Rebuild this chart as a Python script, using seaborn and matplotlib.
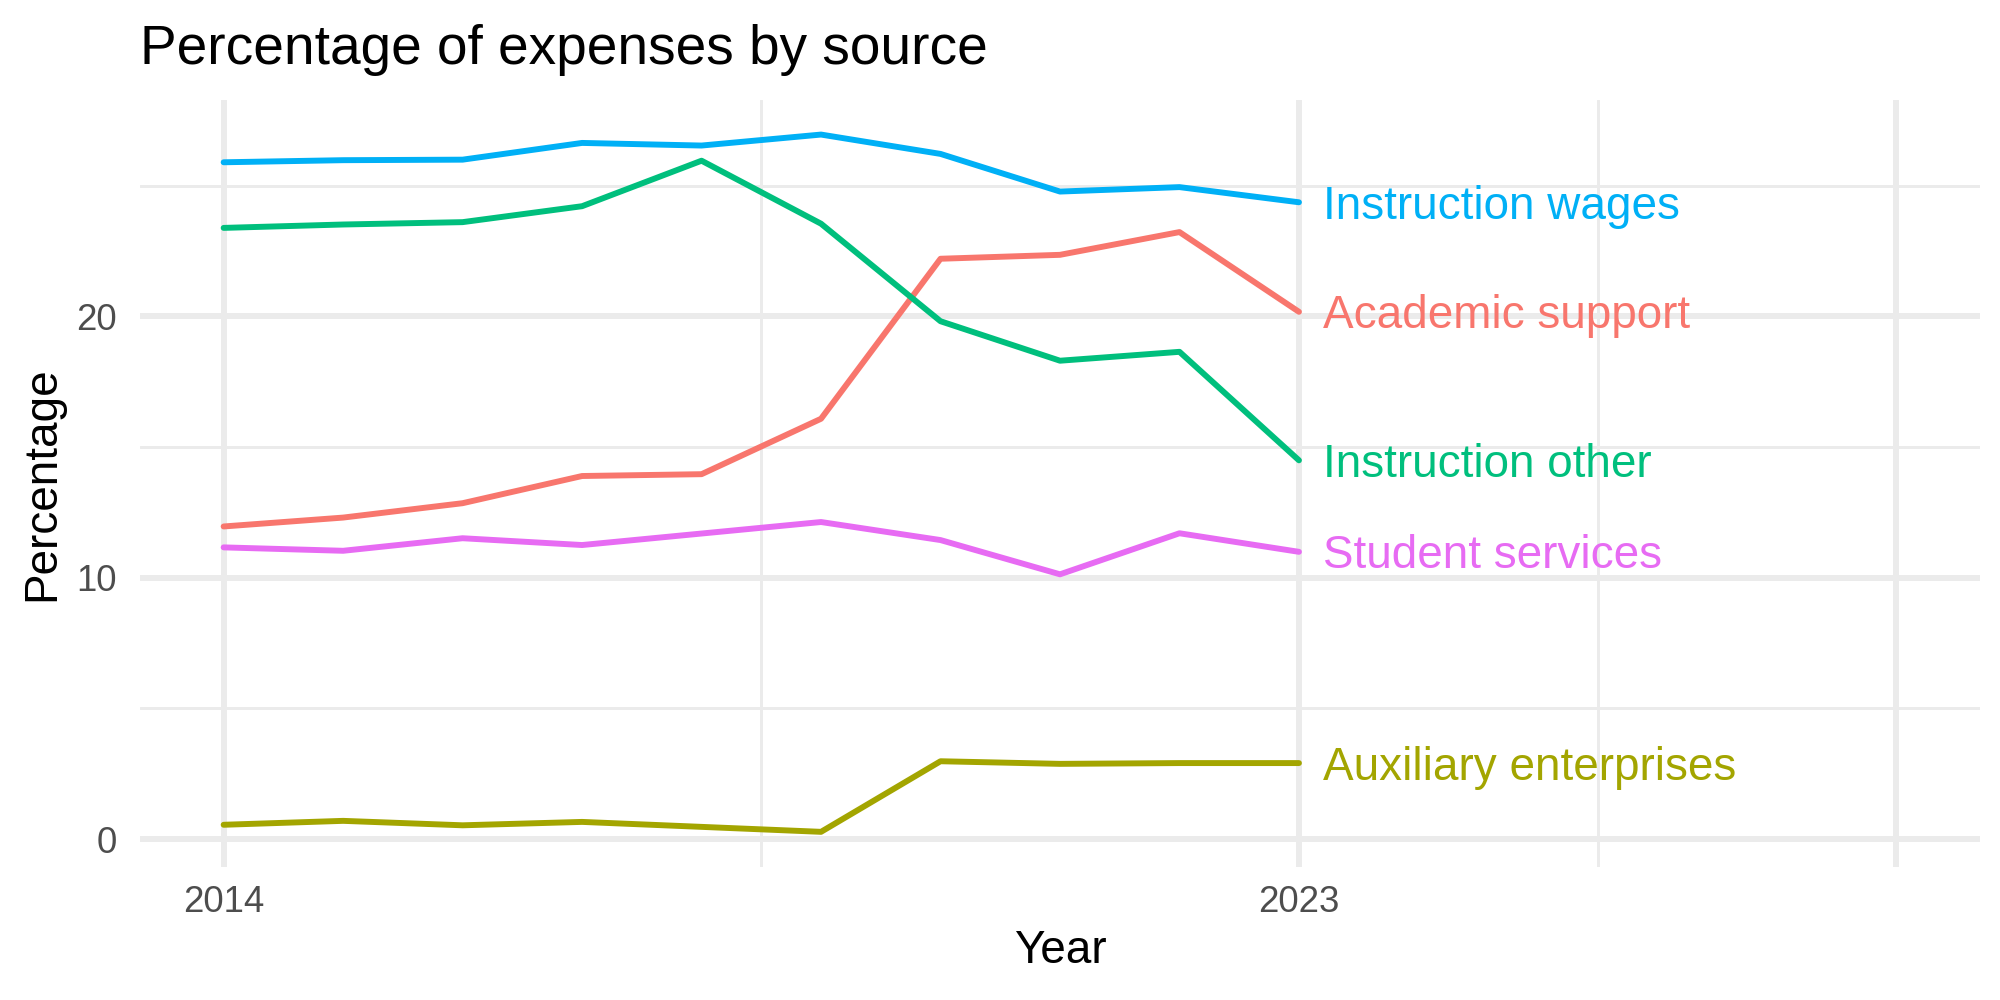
import matplotlib
matplotlib.use("Agg")
import matplotlib.pyplot as plt
from matplotlib.ticker import FixedLocator
from matplotlib.transforms import offset_copy
import pandas as pd
import seaborn as sns

years = list(range(2014, 2024))
academic_support = [11.96, 12.30, 12.85, 13.89, 13.96, 16.08, 22.20, 22.35, 23.22, 20.17]
auxiliary_enterprises = [0.55, 0.70, 0.53, 0.66, 0.47, 0.28, 2.98, 2.88, 2.91, 2.91]
instruction_other = [23.38, 23.51, 23.60, 24.21, 25.95, 23.54, 19.81, 18.30, 18.64, 14.49]
instruction_wages = [25.89, 25.97, 25.99, 26.63, 26.53, 26.95, 26.21, 24.77, 24.94, 24.36]
student_services = [11.16, 11.03, 11.51, 11.25, 11.69, 12.13, 11.44, 10.13, 11.70, 10.99]

sources = ["Academic support", "Auxiliary enterprises", "Instruction other",
           "Instruction wages", "Student services"]
colors = ["#F8766D", "#A3A500", "#00BF7D", "#00B0F6", "#E76BF3"]
x_breaks = [2014, 2023, 2028]
x_labels = ["2014", "2023", ""]

series = [academic_support, auxiliary_enterprises, instruction_other,
          instruction_wages, student_services]
df = pd.concat([pd.DataFrame({"Year": years, "Percentage": v, "source": s})
                for s, v in zip(sources, series)], ignore_index=True)

sns.set_theme(style="white")
plt.rcParams["font.family"] = ["Liberation Sans", "DejaVu Sans"]

fig = plt.figure(figsize=(2000 / 300, 1000 / 300), dpi=300)
ax = fig.add_axes([0.070, 0.1333, 0.920, 0.767])

sns.lineplot(data=df, x="Year", y="Percentage", hue="source",
             palette=dict(zip(sources, colors)), linewidth=1.42,
             legend=False, ax=ax, zorder=3)

# labels at line ends, nudged slightly down like ggplot's text centering
lab_tr = offset_copy(ax.transData, fig=fig, x=0, y=-1.1, units="points")
for s, v, c in zip(sources, series, colors):
    ax.text(years[-1] + 0.2, v[-1], s, color=c, fontsize=11,
            ha="left", va="center", zorder=4, transform=lab_tr)

# ggplot-like limits (5% expansion)
xr = x_breaks[-1] - x_breaks[0]
ax.set_xlim(x_breaks[0] - 0.05 * xr, x_breaks[-1] + 0.05 * xr)
ymin = min(min(v) for v in series)
ymax = max(max(v) for v in series)
yr = ymax - ymin
ax.set_ylim(ymin - 0.05 * yr, ymax + 0.05 * yr)

ax.xaxis.set_major_locator(FixedLocator(x_breaks))
ax.set_xticklabels(x_labels)
ax.xaxis.set_minor_locator(FixedLocator([2018.5, 2025.5]))
ax.yaxis.set_major_locator(FixedLocator([0, 10, 20]))
ax.set_yticklabels(["0", "10", "20"])
ax.yaxis.set_minor_locator(FixedLocator([5, 15, 25]))

ax.grid(which="major", color="#EBEBEB", linewidth=1.42, zorder=0)
ax.grid(which="minor", color="#EBEBEB", linewidth=0.71, zorder=0)
ax.set_axisbelow(True)
for sp in ax.spines.values():
    sp.set_visible(False)

ax.tick_params(which="both", length=0)
ax.tick_params(axis="x", labelsize=8.8, labelcolor="#4D4D4D", pad=4.5)
ax.tick_params(axis="y", labelsize=8.8, labelcolor="#4D4D4D", pad=5.5)
ax.set_xlabel("Year", fontsize=11, color="black", labelpad=2)
ax.set_ylabel("Percentage", fontsize=11, color="black", labelpad=3)

fig.text(0.070, 0.936, "Percentage of expenses by source", fontsize=13.2,
         ha="left", va="baseline", color="black")

fig.savefig("out.png", dpi=300, facecolor="white")
